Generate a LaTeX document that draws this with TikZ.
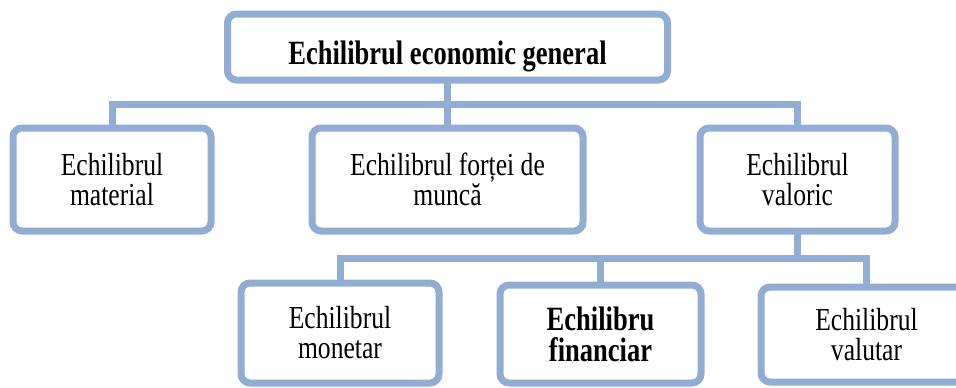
\documentclass[tikz,border=0pt]{standalone}
\usepackage{fontspec}
\setmainfont{Liberation Serif}[FakeStretch=0.80]
\newfontfamily\titlefont{Liberation Serif}[FakeStretch=0.78]
\definecolor{boxblue}{RGB}{146,173,212}
\begin{document}
\begin{tikzpicture}[x=1pt,y=-1pt,
  box/.style={draw=boxblue, line width=7pt, rounded corners=9pt, fill=white,
    align=center, inner sep=0pt, outer sep=0pt,
    font=\fontsize{32}{30}\selectfont},
  boldbox/.style={box, font=\titlefont\fontsize{34}{31}\selectfont\bfseries},
  conn/.style={draw=boxblue, line width=7pt}]
\useasboundingbox[fill=white] (0,0) rectangle (956,388);
% nodes
\node[boldbox, minimum width=440pt, minimum height=66pt] (top) at (447.5,47) {};
\node[anchor=base, inner sep=0pt, font=\titlefont\fontsize{34}{31}\selectfont\bfseries] (toptext) at (447.5,64) {Echilibrul economic general};
\node[box, minimum width=198pt, minimum height=103pt] (mat) at (112,179.5) {Echilibrul\\material};
\node[box, minimum width=271pt, minimum height=103pt] (munca) at (447.5,179.5) {Echilibrul forței de\\muncă};
\node[box, minimum width=195pt, minimum height=103pt] (val) at (797.5,179.5) {Echilibrul\\valoric};
\node[box, minimum width=198pt, minimum height=100pt] (mon) at (340,333) {Echilibrul\\monetar};
\node[boldbox, minimum width=201pt, minimum height=98pt] (fin) at (600.5,334) {Echilibru\\financiar};
\node[box, minimum width=211pt, minimum height=95pt] (valut) at (866.5,334.5) {Echilibrul\\valutar};
% junctions
\coordinate (j1) at (447.5,104);
\coordinate (j2) at (797.5,258);
% connectors
\draw[conn] (top.south) -- (j1);
\draw[conn] (mat.north) |- (j1) -| (val.north);
\draw[conn] (j1) -- (munca.north);
\draw[conn] (val.south) -- (j2);
\draw[conn] (mon.north) |- (j2) -| (valut.north);
\draw[conn] (fin.north) -- (fin.north |- j2);
\end{tikzpicture}
\end{document}
